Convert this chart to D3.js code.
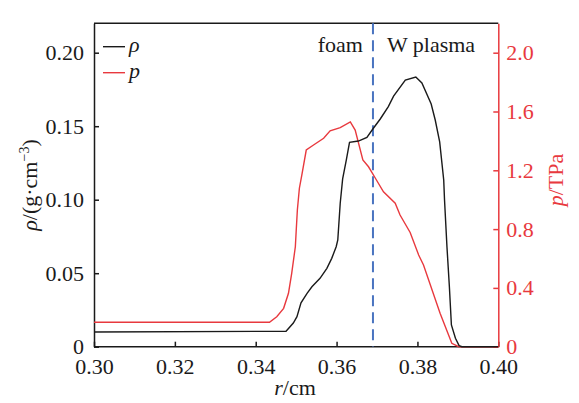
<!DOCTYPE html>
<html lang="en">
<head>
<meta charset="UTF-8">
<title>rho and p profiles</title>
<script src="https://d3js.org/d3.v7.min.js"></script>
<style>
  body { margin: 0; background: #fff; }
  svg text { font-family: "Liberation Serif", "Times New Roman", serif; }
</style>
</head>
<body>
<div id="chart"></div>
<script>
// density profile, r in cm, rho in g/cm^3
const rhoR = [0.300, 0.3475, 0.3493, 0.3502, 0.3512, 0.3527, 0.3539, 0.3559, 0.3576, 0.3588, 0.3599, 0.3603,
  0.3609, 0.3615, 0.3624, 0.3632, 0.3654, 0.3675, 0.3691, 0.3708, 0.3728, 0.3741, 0.3770, 0.3796, 0.3811,
  0.3834, 0.3844, 0.3855, 0.3865, 0.3867, 0.3873, 0.3879, 0.3884, 0.3894, 0.3903, 0.3910, 0.400];
const rhoV = [0.0100, 0.0105, 0.0161, 0.0204, 0.0299, 0.0363, 0.0408, 0.0465, 0.0533, 0.0601, 0.0680, 0.0726,
  0.0976, 0.1141, 0.1270, 0.1390, 0.1399, 0.1424, 0.1486, 0.1549, 0.1633, 0.1705, 0.1814, 0.1835, 0.1794,
  0.1651, 0.1542, 0.1393, 0.1134, 0.0998, 0.0680, 0.0408, 0.0148, 0.0057, 0.0007, 0.0000, 0.0000];

// pressure profile, p in TPa
const pR = [0.300, 0.3434, 0.3452, 0.3469, 0.3481, 0.3489, 0.3498, 0.3500, 0.3503, 0.3508, 0.3514, 0.3525,
  0.3543, 0.3568, 0.3584, 0.3609, 0.3634, 0.3646, 0.3665, 0.3679, 0.3696, 0.3716, 0.3745, 0.3757, 0.3782,
  0.3803, 0.3815, 0.3856, 0.3885, 0.3902, 0.400];
const pV = [0.166, 0.166, 0.204, 0.261, 0.363, 0.499, 0.680, 0.782, 0.930, 1.078, 1.168, 1.338,
  1.372, 1.418, 1.469, 1.490, 1.529, 1.474, 1.270, 1.224, 1.146, 1.054, 0.976, 0.896, 0.777,
  0.624, 0.556, 0.227, 0.023, 0.000, 0.000];

const xTicks = [0.30, 0.32, 0.34, 0.36, 0.38, 0.40];
const rhoTicks = [0, 0.05, 0.10, 0.15, 0.20];
const pTicks = [0, 0.4, 0.8, 1.2, 1.6, 2.0];
const interfaceR = 0.369;

const width = 579, height = 403;
const margin = {top: 23.3, right: 80.7, bottom: 56.3, left: 94};
const black = "#1a1a1a", red = "#e8393e", blue = "#4a74c0";

const svg = d3.select("#chart").append("svg")
  .attr("width", width).attr("height", height);

const x = d3.scaleLinear().domain([0.30, 0.40]).range([margin.left, width - margin.right]);
const yL = d3.scaleLinear().domain([0, 0.22]).range([height - margin.bottom, margin.top]);
const yR = d3.scaleLinear().domain([0, 2.2]).range([height - margin.bottom, margin.top]);

// top border
svg.append("line")
  .attr("x1", margin.left).attr("x2", width - margin.right)
  .attr("y1", margin.top).attr("y2", margin.top)
  .attr("stroke", black).attr("stroke-width", 1.5);

const fs = "22px";

const gx = svg.append("g")
  .attr("transform", `translate(0,${height - margin.bottom})`)
  .call(d3.axisBottom(x).tickValues(xTicks).tickFormat(d3.format(".2f"))
    .tickSizeInner(-5).tickSizeOuter(0).tickPadding(12));

const gl = svg.append("g")
  .attr("transform", `translate(${margin.left},0)`)
  .call(d3.axisLeft(yL).tickValues(rhoTicks).tickFormat(d => d === 0 ? "0" : d3.format(".2f")(d))
    .tickSizeInner(-5).tickSizeOuter(0).tickPadding(10));

const gr = svg.append("g")
  .attr("transform", `translate(${width - margin.right},0)`)
  .call(d3.axisRight(yR).tickValues(pTicks).tickFormat(d => d === 0 ? "0" : d3.format(".1f")(d))
    .tickSizeInner(-5).tickSizeOuter(0).tickPadding(8));

gx.selectAll("text").attr("font-size", fs).attr("fill", black);
gl.selectAll("text").attr("font-size", fs).attr("fill", black);
gr.selectAll("text").attr("font-size", fs).attr("fill", red);

[gx, gl].forEach(g => g.selectAll("path, line").attr("stroke", black).attr("stroke-width", 1.5));
gr.selectAll("path, line").attr("stroke", red).attr("stroke-width", 1.5);
gx.select(".domain").attr("d", `M${margin.left},0H${width - margin.right}`);

// interface line
svg.append("line")
  .attr("x1", x(interfaceR)).attr("x2", x(interfaceR))
  .attr("y1", margin.top).attr("y2", height - margin.bottom)
  .attr("stroke", blue).attr("stroke-width", 2)
  .attr("stroke-dasharray", "11,6");

const rhoData = rhoR.map((r, i) => [r, rhoV[i]]);
const pData = pR.map((r, i) => [r, pV[i]]);

svg.append("path")
  .datum(pData)
  .attr("fill", "none").attr("stroke", red).attr("stroke-width", 1.4)
  .attr("d", d3.line().x(d => x(d[0])).y(d => yR(d[1])));

svg.append("path")
  .datum(rhoData)
  .attr("fill", "none").attr("stroke", black).attr("stroke-width", 1.4)
  .attr("d", d3.line().x(d => x(d[0])).y(d => yL(d[1])));

// legend
const legend = [{name: "\u03c1", color: black, y: 46.7}, {name: "p", color: red, y: 72.7}];
legend.forEach(l => {
  svg.append("line")
    .attr("x1", 103).attr("x2", 125).attr("y1", l.y).attr("y2", l.y)
    .attr("stroke", l.color).attr("stroke-width", 1.4);
  svg.append("text")
    .attr("x", 129).attr("y", l.y + 5)
    .attr("font-size", fs).attr("font-style", "italic").attr("fill", black)
    .text(l.name);
});

// region labels
svg.append("text").attr("x", x(interfaceR) - 10).attr("y", 52)
  .attr("text-anchor", "end").attr("font-size", fs).attr("fill", black).text("foam");
svg.append("text").attr("x", x(interfaceR) + 14).attr("y", 52)
  .attr("font-size", fs).attr("fill", black).text("W plasma");

// axis titles
const tl = svg.append("text")
  .attr("transform", `translate(37,${yL(0.11)}) rotate(-90)`)
  .attr("text-anchor", "middle").attr("font-size", fs).attr("fill", black);
tl.append("tspan").attr("font-style", "italic").text("\u03c1");
tl.append("tspan").text("/(g\u00b7cm");
tl.append("tspan").attr("font-size", "14px").attr("dy", -8).text("\u22123");
tl.append("tspan").attr("dy", 8).text(")");

const tr = svg.append("text")
  .attr("transform", `translate(563,${yR(1.134)}) rotate(-90)`)
  .attr("text-anchor", "middle").attr("font-size", fs).attr("fill", red);
tr.append("tspan").attr("font-style", "italic").text("p");
tr.append("tspan").text("/TPa");

const tb = svg.append("text")
  .attr("x", 295).attr("y", 395)
  .attr("text-anchor", "middle").attr("font-size", fs).attr("fill", black);
tb.append("tspan").attr("font-style", "italic").text("r");
tb.append("tspan").text("/cm");
</script>
</body>
</html>
